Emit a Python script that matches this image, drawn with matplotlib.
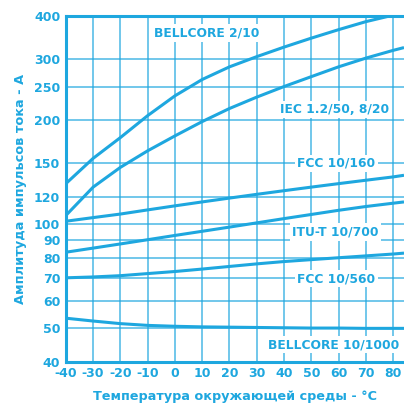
import numpy as np
import matplotlib.pyplot as plt
from matplotlib.ticker import FixedLocator, NullLocator

# Температура, °C
temp = [-40, -30, -20, -10, 0, 10, 20, 30, 40, 50, 60, 70, 80, 84]

# Амплитуда импульсов тока, А
bellcore_2_10 = [131, 155, 178, 206, 235, 262, 285, 305, 325, 345, 365, 385, 402, 410]
iec_8_20 = [106, 128, 146, 163, 180, 198, 216, 233, 250, 267, 285, 302, 318, 324]
fcc_10_160 = [102, 104.5, 107, 110, 113, 116, 119, 122, 125, 128, 131, 134, 137, 138.5]
itu_10_700 = [83, 85.3, 87.7, 90.2, 92.8, 95.4, 98.1, 100.9, 103.8, 106.7, 109.7, 112.5, 115, 116]
fcc_10_560 = [70, 70.4, 71, 72, 73, 74.2, 75.5, 76.8, 78, 79, 80, 81, 82, 82.5]
bellcore_10_1000 = [53.5, 52.5, 51.6, 51, 50.7, 50.5, 50.4, 50.3, 50.2, 50.1, 50.1, 50, 50, 50]

series = [bellcore_2_10, iec_8_20, fcc_10_160, itu_10_700, fcc_10_560, bellcore_10_1000]
names = ['BELLCORE 2/10', 'IEC 1.2/50, 8/20', 'FCC 10/160',
         'ITU-T 10/700', 'FCC 10/560', 'BELLCORE 10/1000']
name_pos = [(11.8, 357), (58.5, 214), (59.2, 150), (58.8, 95), (59.2, 69.5), (58.3, 44.8)]

y_ticks = [40, 50, 60, 70, 80, 90, 100, 120, 150, 200, 250, 300, 400]
x_ticks = list(range(-40, 81, 10))

blue = '#1ea7df'
plt.rcParams['font.family'] = ['DejaVu Sans']
plt.rcParams['font.weight'] = 'bold'

fig = plt.figure(figsize=(4.04, 4.08), dpi=100)
ax = fig.add_axes([0.163, 0.113, 0.837, 0.848])

for ys in series:
    ax.plot(temp, ys, color=blue, lw=2.2, solid_capstyle='butt', zorder=3)

ax.set_yscale('log')
ax.set_xlim(-40, 84)
ax.set_ylim(40, 400)

ax.yaxis.set_major_locator(FixedLocator(y_ticks))
ax.yaxis.set_minor_locator(NullLocator())
ax.set_yticklabels([str(v) for v in y_ticks])
ax.set_xticks(x_ticks)
ax.set_xticklabels([str(v) for v in x_ticks])

ax.grid(True, color=blue, lw=1.1, alpha=0.8, zorder=1)
ax.tick_params(length=0, colors=blue, labelsize=9, pad=4)

for side in ['left', 'bottom', 'top']:
    ax.spines[side].set_color(blue)
    ax.spines[side].set_linewidth(2.2)
ax.spines['right'].set_visible(False)

for (x, y), name in zip(name_pos, names):
    ax.text(x, y, name, color=blue, fontsize=8.8, fontweight='bold',
            ha='center', va='center', zorder=4,
            bbox=dict(facecolor='white', edgecolor='none', pad=1.5))

ax.set_ylabel('Амплитуда импульсов тока - А', color=blue, fontsize=9.3,
              fontweight='bold', labelpad=5)
ax.set_xlabel('Температура окружающей среды - °C', color=blue, fontsize=9.2,
              fontweight='bold', labelpad=7)

fig.savefig('out.png', dpi=100)
